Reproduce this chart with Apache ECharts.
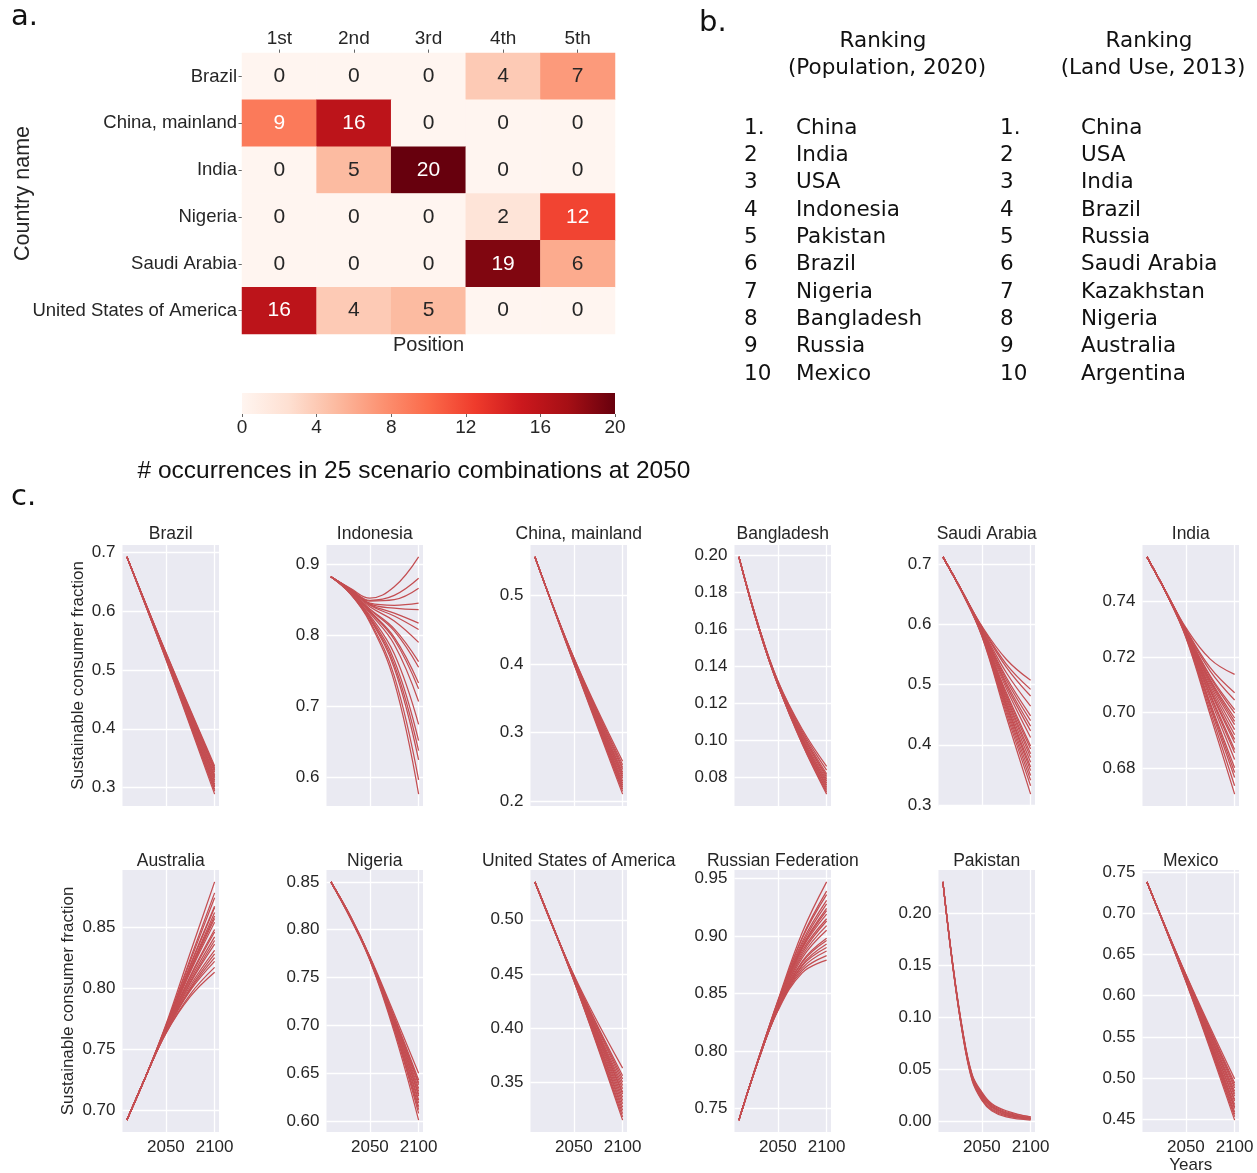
<!DOCTYPE html>
<html>
<head>
<meta charset="utf-8">
<title>Sustainable consumer fraction by country</title>
<script src="https://cdn.jsdelivr.net/npm/echarts@6/dist/echarts.min.js"></script>
<style>
  html, body { margin: 0; padding: 0; background: #ffffff; }
  #chart { width: 1257px; height: 1173px; }
</style>
</head>
<body>
<div id="chart"></div>
<script>
// ---------------- Panel a: ranking positions at 2050 ----------------
const countries = ['Brazil', 'China, mainland', 'India', 'Nigeria', 'Saudi Arabia', 'United States of America'];
const positions = ['1st', '2nd', '3rd', '4th', '5th'];
const countsBrazil  = [0, 0, 0, 4, 7];
const countsChina   = [9, 16, 0, 0, 0];
const countsIndia   = [0, 5, 20, 0, 0];
const countsNigeria = [0, 0, 0, 2, 12];
const countsSaudi   = [0, 0, 0, 19, 6];
const countsUSA     = [16, 4, 5, 0, 0];
const colorbarTicks = [0, 4, 8, 12, 16, 20];

// ColorBrewer "Reds" ramp
const reds = ['#fff5f0', '#fee0d2', '#fcbba1', '#fc9272', '#fb6a4a', '#ef3b2c', '#cb181d', '#a50f15', '#67000d'];

// ---------------- Panel b: rankings ----------------
const rankNumbers = ['1.', '2', '3', '4', '5', '6', '7', '8', '9', '10'];
const populationRanking = ['China', 'India', 'USA', 'Indonesia', 'Pakistan', 'Brazil', 'Nigeria', 'Bangladesh', 'Russia', 'Mexico'];
const landUseRanking = ['China', 'USA', 'India', 'Brazil', 'Russia', 'Saudi Arabia', 'Kazakhstan', 'Nigeria', 'Australia', 'Argentina'];

// ---------------- Panel c: scenario trajectories ----------------
const years = [2010, 2030, 2050, 2075, 2100];
const yearsLinear = [2010, 2050, 2100];
const yearsPakistan = [2010, 2020, 2030, 2040, 2050, 2060, 2075, 2100];
const yearTicks = ['2050', '2100'];

const brazil = [
  [0.692, 0.530, 0.337], [0.692, 0.529, 0.334], [0.692, 0.528, 0.331], [0.692, 0.528, 0.329],
  [0.692, 0.527, 0.326], [0.692, 0.526, 0.322], [0.692, 0.525, 0.319], [0.692, 0.525, 0.317],
  [0.692, 0.524, 0.313], [0.692, 0.523, 0.310], [0.692, 0.522, 0.306], [0.692, 0.521, 0.303],
  [0.692, 0.521, 0.301], [0.692, 0.520, 0.297], [0.692, 0.519, 0.294], [0.692, 0.518, 0.289]
];
const brazilTicks = ['0.3', '0.4', '0.5', '0.6', '0.7'];

const indonesia = [
  [0.882, 0.866, 0.852, 0.868, 0.910], [0.882, 0.865, 0.849, 0.856, 0.880],
  [0.882, 0.865, 0.848, 0.850, 0.866], [0.882, 0.864, 0.845, 0.842, 0.845],
  [0.882, 0.864, 0.844, 0.838, 0.836], [0.882, 0.864, 0.843, 0.831, 0.817],
  [0.882, 0.864, 0.842, 0.827, 0.808], [0.882, 0.863, 0.840, 0.820, 0.790],
  [0.882, 0.862, 0.837, 0.809, 0.763], [0.882, 0.862, 0.836, 0.806, 0.755],
  [0.882, 0.862, 0.834, 0.797, 0.733], [0.882, 0.862, 0.833, 0.794, 0.725],
  [0.882, 0.861, 0.831, 0.787, 0.707], [0.882, 0.860, 0.828, 0.774, 0.675],
  [0.882, 0.860, 0.826, 0.765, 0.652], [0.882, 0.859, 0.824, 0.759, 0.638],
  [0.882, 0.859, 0.823, 0.754, 0.625], [0.882, 0.858, 0.820, 0.743, 0.597],
  [0.882, 0.858, 0.818, 0.735, 0.577]
];
const indonesiaTicks = ['0.6', '0.7', '0.8', '0.9'];

const china = [
  [0.556, 0.409, 0.258], [0.556, 0.408, 0.253], [0.556, 0.408, 0.249], [0.556, 0.407, 0.246],
  [0.556, 0.406, 0.242], [0.556, 0.406, 0.239], [0.556, 0.405, 0.236], [0.556, 0.404, 0.233],
  [0.556, 0.404, 0.229], [0.556, 0.403, 0.226], [0.556, 0.403, 0.223], [0.556, 0.402, 0.220],
  [0.556, 0.401, 0.217], [0.556, 0.401, 0.214], [0.556, 0.400, 0.210]
];
const chinaTicks = ['0.2', '0.3', '0.4', '0.5'];

const bangladesh = [
  [0.199, 0.162, 0.132, 0.106, 0.086], [0.199, 0.162, 0.132, 0.105, 0.084],
  [0.199, 0.162, 0.131, 0.104, 0.082], [0.199, 0.162, 0.131, 0.103, 0.081],
  [0.199, 0.162, 0.131, 0.103, 0.080], [0.199, 0.162, 0.131, 0.102, 0.079],
  [0.199, 0.161, 0.131, 0.101, 0.078], [0.199, 0.161, 0.131, 0.101, 0.077],
  [0.199, 0.161, 0.130, 0.100, 0.076], [0.199, 0.161, 0.130, 0.100, 0.075],
  [0.199, 0.161, 0.130, 0.099, 0.074], [0.199, 0.161, 0.130, 0.099, 0.073],
  [0.199, 0.161, 0.130, 0.098, 0.072], [0.199, 0.161, 0.130, 0.098, 0.071]
];
const bangladeshTicks = ['0.08', '0.10', '0.12', '0.14', '0.16', '0.18', '0.20'];

const saudiArabia = [
  [0.712, 0.654, 0.597, 0.542, 0.507], [0.712, 0.654, 0.596, 0.534, 0.492],
  [0.712, 0.654, 0.595, 0.529, 0.481], [0.712, 0.654, 0.593, 0.520, 0.464],
  [0.712, 0.654, 0.592, 0.512, 0.448], [0.712, 0.654, 0.591, 0.508, 0.440],
  [0.712, 0.654, 0.590, 0.503, 0.431], [0.712, 0.653, 0.589, 0.499, 0.423],
  [0.712, 0.653, 0.588, 0.494, 0.412], [0.712, 0.653, 0.587, 0.487, 0.398],
  [0.712, 0.653, 0.587, 0.484, 0.393], [0.712, 0.653, 0.586, 0.480, 0.385],
  [0.712, 0.653, 0.585, 0.477, 0.379], [0.712, 0.653, 0.585, 0.473, 0.371],
  [0.712, 0.653, 0.584, 0.469, 0.363], [0.712, 0.653, 0.583, 0.466, 0.357],
  [0.712, 0.653, 0.583, 0.462, 0.349], [0.712, 0.652, 0.582, 0.458, 0.341],
  [0.712, 0.652, 0.581, 0.453, 0.332], [0.712, 0.652, 0.580, 0.447, 0.318]
];
const saudiArabiaTicks = ['0.3', '0.4', '0.5', '0.6', '0.7'];

const india = [
  [0.756, 0.7432, 0.7305, 0.7192, 0.7137], [0.756, 0.7432, 0.7300, 0.7161, 0.7071],
  [0.756, 0.7431, 0.7298, 0.7149, 0.7045], [0.756, 0.7431, 0.7295, 0.7132, 0.7010],
  [0.756, 0.7431, 0.7294, 0.7127, 0.6998], [0.756, 0.7431, 0.7292, 0.7118, 0.6980],
  [0.756, 0.7430, 0.7291, 0.7113, 0.6968], [0.756, 0.7430, 0.7290, 0.7107, 0.6956],
  [0.756, 0.7430, 0.7289, 0.7099, 0.6938], [0.756, 0.7430, 0.7287, 0.7090, 0.6920],
  [0.756, 0.7430, 0.7286, 0.7082, 0.6903], [0.756, 0.7429, 0.7285, 0.7077, 0.6891],
  [0.756, 0.7429, 0.7283, 0.7066, 0.6867], [0.756, 0.7429, 0.7282, 0.7060, 0.6855],
  [0.756, 0.7429, 0.7280, 0.7049, 0.6831], [0.756, 0.7429, 0.7278, 0.7034, 0.6801],
  [0.756, 0.7428, 0.7276, 0.7027, 0.6784], [0.756, 0.7428, 0.7275, 0.7018, 0.6766],
  [0.756, 0.7428, 0.7272, 0.7004, 0.6736], [0.756, 0.7428, 0.7270, 0.6990, 0.6706]
];
const indiaTicks = ['0.68', '0.70', '0.72', '0.74'];

const australia = [
  [0.692, 0.729, 0.770, 0.829, 0.887], [0.692, 0.729, 0.769, 0.824, 0.878],
  [0.692, 0.729, 0.769, 0.822, 0.874], [0.692, 0.729, 0.768, 0.819, 0.867],
  [0.692, 0.729, 0.768, 0.818, 0.866], [0.692, 0.729, 0.768, 0.816, 0.862],
  [0.692, 0.729, 0.767, 0.815, 0.859], [0.692, 0.729, 0.767, 0.814, 0.857],
  [0.692, 0.729, 0.767, 0.813, 0.854], [0.692, 0.729, 0.766, 0.810, 0.848],
  [0.692, 0.729, 0.766, 0.809, 0.846], [0.692, 0.729, 0.766, 0.807, 0.842],
  [0.692, 0.729, 0.765, 0.805, 0.839], [0.692, 0.729, 0.765, 0.804, 0.836],
  [0.692, 0.729, 0.765, 0.802, 0.831], [0.692, 0.729, 0.764, 0.800, 0.828],
  [0.692, 0.729, 0.764, 0.799, 0.825], [0.692, 0.729, 0.764, 0.798, 0.822],
  [0.692, 0.729, 0.763, 0.795, 0.817], [0.692, 0.729, 0.763, 0.793, 0.813]
];
const australiaTicks = ['0.70', '0.75', '0.80', '0.85'];

const nigeria = [
  [0.850, 0.814, 0.772, 0.712, 0.650], [0.850, 0.814, 0.771, 0.709, 0.643],
  [0.850, 0.814, 0.771, 0.708, 0.640], [0.850, 0.814, 0.771, 0.707, 0.638],
  [0.850, 0.814, 0.771, 0.706, 0.634], [0.850, 0.813, 0.770, 0.705, 0.631],
  [0.850, 0.813, 0.770, 0.703, 0.628], [0.850, 0.813, 0.770, 0.703, 0.626],
  [0.850, 0.813, 0.770, 0.701, 0.622], [0.850, 0.813, 0.769, 0.700, 0.619],
  [0.850, 0.813, 0.769, 0.698, 0.615], [0.850, 0.813, 0.769, 0.697, 0.612],
  [0.850, 0.812, 0.769, 0.696, 0.608], [0.850, 0.812, 0.768, 0.693, 0.601]
];
const nigeriaTicks = ['0.60', '0.65', '0.70', '0.75', '0.80', '0.85'];

const usa = [
  [0.535, 0.449, 0.363], [0.535, 0.448, 0.356], [0.535, 0.448, 0.353], [0.535, 0.448, 0.350],
  [0.535, 0.447, 0.347], [0.535, 0.447, 0.344], [0.535, 0.447, 0.341], [0.535, 0.446, 0.339],
  [0.535, 0.446, 0.336], [0.535, 0.446, 0.333], [0.535, 0.445, 0.330], [0.535, 0.445, 0.327],
  [0.535, 0.445, 0.324], [0.535, 0.444, 0.321], [0.535, 0.444, 0.318], [0.535, 0.444, 0.315]
];
const usaTicks = ['0.35', '0.40', '0.45', '0.50'];

const russia = [
  [0.740, 0.793, 0.844, 0.903, 0.947], [0.740, 0.793, 0.843, 0.899, 0.939],
  [0.740, 0.793, 0.843, 0.898, 0.936], [0.740, 0.793, 0.842, 0.895, 0.931],
  [0.740, 0.793, 0.841, 0.893, 0.928], [0.740, 0.793, 0.841, 0.891, 0.924],
  [0.740, 0.793, 0.841, 0.890, 0.922], [0.740, 0.793, 0.840, 0.889, 0.919],
  [0.740, 0.793, 0.840, 0.887, 0.915], [0.740, 0.793, 0.839, 0.885, 0.913],
  [0.740, 0.793, 0.839, 0.883, 0.909], [0.740, 0.792, 0.838, 0.881, 0.905],
  [0.740, 0.792, 0.837, 0.878, 0.898], [0.740, 0.792, 0.837, 0.877, 0.896],
  [0.740, 0.792, 0.837, 0.875, 0.893], [0.740, 0.792, 0.836, 0.874, 0.890],
  [0.740, 0.792, 0.836, 0.872, 0.887], [0.740, 0.792, 0.836, 0.870, 0.883],
  [0.740, 0.792, 0.835, 0.868, 0.879]
];
const russiaTicks = ['0.75', '0.80', '0.85', '0.90', '0.95'];

const pakistan = [
  [0.230, 0.152, 0.089, 0.045, 0.028, 0.017, 0.010, 0.004],
  [0.230, 0.152, 0.088, 0.044, 0.027, 0.016, 0.009, 0.004],
  [0.230, 0.151, 0.088, 0.044, 0.026, 0.015, 0.008, 0.003],
  [0.230, 0.151, 0.087, 0.043, 0.025, 0.014, 0.008, 0.003],
  [0.230, 0.151, 0.087, 0.042, 0.024, 0.014, 0.007, 0.003],
  [0.230, 0.151, 0.086, 0.042, 0.023, 0.013, 0.006, 0.002],
  [0.230, 0.150, 0.086, 0.041, 0.022, 0.012, 0.006, 0.002],
  [0.230, 0.150, 0.085, 0.040, 0.021, 0.011, 0.005, 0.002],
  [0.230, 0.150, 0.085, 0.039, 0.020, 0.010, 0.004, 0.001]
];
const pakistanTicks = ['0.00', '0.05', '0.10', '0.15', '0.20'];

const mexico = [
  [0.738, 0.626, 0.499], [0.738, 0.625, 0.494], [0.738, 0.625, 0.491], [0.738, 0.624, 0.488],
  [0.738, 0.623, 0.484], [0.738, 0.623, 0.481], [0.738, 0.622, 0.478], [0.738, 0.621, 0.474],
  [0.738, 0.621, 0.472], [0.738, 0.620, 0.468], [0.738, 0.620, 0.465], [0.738, 0.619, 0.463],
  [0.738, 0.619, 0.459], [0.738, 0.618, 0.456], [0.738, 0.618, 0.453], [0.738, 0.617, 0.449]
];
const mexicoTicks = ['0.45', '0.50', '0.55', '0.60', '0.65', '0.70', '0.75'];

// Small-multiple panels, in reading order
const panels = [
  { title: 'Brazil', years: yearsLinear, lines: brazil, ticks: brazilTicks },
  { title: 'Indonesia', years: years, lines: indonesia, ticks: indonesiaTicks },
  { title: 'China, mainland', years: yearsLinear, lines: china, ticks: chinaTicks },
  { title: 'Bangladesh', years: years, lines: bangladesh, ticks: bangladeshTicks },
  { title: 'Saudi Arabia', years: years, lines: saudiArabia, ticks: saudiArabiaTicks },
  { title: 'India', years: years, lines: india, ticks: indiaTicks },
  { title: 'Australia', years: years, lines: australia, ticks: australiaTicks },
  { title: 'Nigeria', years: years, lines: nigeria, ticks: nigeriaTicks },
  { title: 'United States of America', years: yearsLinear, lines: usa, ticks: usaTicks },
  { title: 'Russian Federation', years: years, lines: russia, ticks: russiaTicks },
  { title: 'Pakistan', years: yearsPakistan, lines: pakistan, ticks: pakistanTicks },
  { title: 'Mexico', years: yearsLinear, lines: mexico, ticks: mexicoTicks }
];

// ---------------- styling ----------------
const SANS = 'Liberation Sans';
const VERDANA_LIKE = 'DejaVu Sans';
const DARK = '#262626';
const LINE_RED = '#C44E52';
const PANEL_BG = '#EAEAF2';

const grids = [];
const xAxes = [];
const yAxes = [];
const series = [];
const graphics = [];

function text(str, x, y, align, font, fill) {
  return {
    type: 'text', x: x, y: y, silent: true,
    style: { text: str, font: font, fill: fill || '#111111', align: align, verticalAlign: 'middle' }
  };
}

// ---- heatmap (grid 0) ----
grids.push({ left: 242, top: 53, width: 373, height: 281, outerBoundsMode: 'none' });
xAxes.push({
  gridIndex: 0, type: 'category', data: positions, position: 'top',
  axisLine: { show: false },
  axisTick: { show: true, alignWithLabel: true, length: 3.5, lineStyle: { color: '#666' } },
  axisLabel: { margin: 5, color: DARK, fontFamily: SANS, fontSize: 19, interval: 0 },
  splitLine: { show: false }
});
xAxes.push({
  gridIndex: 0, type: 'category', data: positions, position: 'bottom',
  axisLine: { show: false }, axisTick: { show: false }, axisLabel: { show: false },
  name: 'Position', nameLocation: 'middle', nameGap: 1.5, nameMoveOverlap: false,
  nameTextStyle: { color: DARK, fontFamily: SANS, fontSize: 20 }
});
yAxes.push({
  gridIndex: 0, type: 'category', data: countries, inverse: true,
  axisLine: { show: false },
  axisTick: { show: true, alignWithLabel: true, length: 3.5, lineStyle: { color: '#666' } },
  axisLabel: { margin: 5, color: DARK, fontFamily: SANS, fontSize: 18.5, interval: 0 },
  name: 'Country name', nameLocation: 'middle', nameRotate: 90, nameGap: 208, nameMoveOverlap: false,
  nameTextStyle: { color: DARK, fontFamily: SANS, fontSize: 21.5 }
});

const countRows = [countsBrazil, countsChina, countsIndia, countsNigeria, countsSaudi, countsUSA];
const heatData = [];
countRows.forEach((row, r) => row.forEach((v, c) => heatData.push([c, r, v])));

series.push({
  type: 'heatmap', xAxisIndex: 0, yAxisIndex: 0, data: heatData,
  itemStyle: { borderWidth: 0 },
  label: {
    show: true,
    formatter: p => (p.value[2] > 8 ? '{w|' : '{d|') + p.value[2] + '}',
    rich: {
      w: { color: '#ffffff', fontFamily: SANS, fontSize: 21 },
      d: { color: DARK, fontFamily: SANS, fontSize: 21 }
    }
  },
  emphasis: { disabled: true }
});

// ---- colour bar (grid 1) ----
grids.push({ left: 242, top: 393, width: 373, height: 21, outerBoundsMode: 'none' });
xAxes.push({
  gridIndex: 1, type: 'value',
  min: colorbarTicks[0], max: colorbarTicks[colorbarTicks.length - 1],
  interval: colorbarTicks[1] - colorbarTicks[0],
  axisLine: { show: false },
  axisTick: { show: true, length: 3, lineStyle: { color: '#666' } },
  axisLabel: { margin: 4, color: DARK, fontFamily: SANS, fontSize: 19 },
  splitLine: { show: false }
});
yAxes.push({ gridIndex: 1, type: 'value', min: 0, max: 1, show: false });

series.push({
  type: 'custom', xAxisIndex: 2, yAxisIndex: 1, silent: true,
  data: [[colorbarTicks[0], colorbarTicks[colorbarTicks.length - 1]]],
  encode: { x: [0, 1] },
  renderItem: (params, api) => {
    const p0 = api.coord([api.value(0), 0]);
    const p1 = api.coord([api.value(1), 1]);
    return {
      type: 'rect',
      shape: { x: p0[0], y: p1[1], width: p1[0] - p0[0], height: p0[1] - p1[1] },
      style: {
        fill: new echarts.graphic.LinearGradient(0, 0, 1, 0,
          reds.map((c, i) => ({ offset: i / (reds.length - 1), color: c })))
      }
    };
  }
});

// ---- small multiples (grids 2..13) ----
const colLeft0 = 122.5, colStep = 204, panelW = 96.5;
const rowTop = [545, 870], rowH = [261, 262], titleY = [534, 861];
const yNameGap = [36, 46];
const yearTickValues = yearTicks.map(Number);

panels.forEach((p, i) => {
  const row = Math.floor(i / 6), col = i % 6;
  const left = colLeft0 + col * colStep;
  const g = grids.length;
  grids.push({
    left: left, top: rowTop[row], width: panelW, height: rowH[row],
    show: true, backgroundColor: PANEL_BG, borderWidth: 0, outerBoundsMode: 'none'
  });

  const x0 = p.years[0], x1 = p.years[p.years.length - 1];
  const xPad = 0.05 * (x1 - x0);
  const vals = p.lines.flat();
  const lo = Math.min(...vals), hi = Math.max(...vals);
  const yPad = 0.05 * (hi - lo);
  const tickVals = p.ticks.map(Number);
  const dec = (p.ticks[0].split('.')[1] || '').length;

  const xi = xAxes.length, yi = yAxes.length;
  xAxes.push({
    gridIndex: g, type: 'value', min: x0 - xPad, max: x1 + xPad,
    axisLine: { show: false },
    axisTick: { show: false, customValues: yearTickValues },
    axisLabel: {
      show: row === 1, customValues: yearTickValues, margin: 7,
      color: DARK, fontFamily: SANS, fontSize: 17, formatter: v => String(v)
    },
    splitLine: { show: true, lineStyle: { color: '#ffffff', width: 1.3 } },
    name: (row === 1 && col === 5) ? 'Years' : '',
    nameLocation: 'middle', nameGap: 25, nameMoveOverlap: false,
    nameTextStyle: { color: DARK, fontFamily: SANS, fontSize: 17 }
  });
  yAxes.push({
    gridIndex: g, type: 'value', min: lo - yPad, max: hi + yPad,
    axisLine: { show: false },
    axisTick: { show: false, customValues: tickVals },
    axisLabel: {
      customValues: tickVals, margin: 7, color: DARK, fontFamily: SANS, fontSize: 17,
      formatter: v => v.toFixed(dec)
    },
    splitLine: { show: true, lineStyle: { color: '#ffffff', width: 1.3 } },
    name: col === 0 ? 'Sustainable consumer fraction' : '',
    nameLocation: 'middle', nameRotate: 90, nameGap: yNameGap[row], nameMoveOverlap: false,
    nameTextStyle: { color: DARK, fontFamily: SANS, fontSize: 17 }
  });

  p.lines.forEach(line => {
    series.push({
      type: 'line', xAxisIndex: xi, yAxisIndex: yi,
      data: line.map((v, k) => [p.years[k], v]),
      smooth: 0.4, showSymbol: false, symbol: 'none', silent: true,
      lineStyle: { color: LINE_RED, width: 1.25 },
      emphasis: { disabled: true }
    });
  });

  graphics.push(text(p.title, left + panelW / 2, titleY[row], 'center', '17.5px ' + SANS, DARK));
});

// ---- panel letters and captions ----
graphics.push(text('a.', 11, 17, 'left', '29px ' + VERDANA_LIKE, '#111'));
graphics.push(text('b.', 699, 23, 'left', '29px ' + VERDANA_LIKE, '#111'));
graphics.push(text('c.', 11, 497, 'left', '29px ' + VERDANA_LIKE, '#111'));
graphics.push(text('# occurrences in 25 scenario combinations at 2050', 414, 471, 'center', '24.5px ' + SANS, '#111'));

// ---- panel b: ranking columns ----
const RANK_FONT = '21.5px ' + VERDANA_LIKE;
graphics.push(text('Ranking', 883, 41, 'center', RANK_FONT));
graphics.push(text('(Population, 2020)', 887, 68, 'center', RANK_FONT));
graphics.push(text('Ranking', 1149, 41, 'center', RANK_FONT));
graphics.push(text('(Land Use, 2013)', 1153, 68, 'center', RANK_FONT));
rankNumbers.forEach((n, i) => {
  const y = 128 + i * 27.33;
  graphics.push(text(n, 744, y, 'left', RANK_FONT));
  graphics.push(text(populationRanking[i], 796, y, 'left', RANK_FONT));
  graphics.push(text(n, 1000, y, 'left', RANK_FONT));
  graphics.push(text(landUseRanking[i], 1081, y, 'left', RANK_FONT));
});

const chart = echarts.init(document.getElementById('chart'), null, { renderer: 'canvas' });
chart.setOption({
  animation: false,
  backgroundColor: '#ffffff',
  grid: grids,
  xAxis: xAxes,
  yAxis: yAxes,
  visualMap: {
    type: 'continuous', show: false, seriesIndex: 0,
    min: colorbarTicks[0], max: colorbarTicks[colorbarTicks.length - 1],
    inRange: { color: reds }
  },
  series: series,
  graphic: graphics
});
</script>
</body>
</html>
